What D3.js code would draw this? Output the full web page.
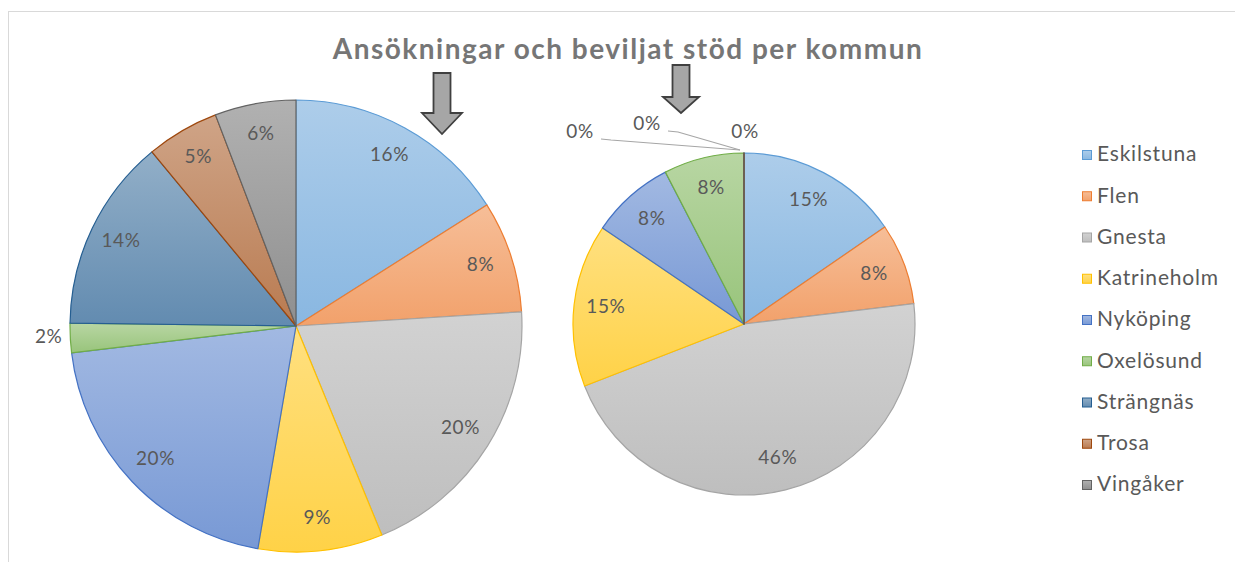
<!DOCTYPE html>
<html>
<head>
<meta charset="utf-8">
<script src="https://cdn.jsdelivr.net/npm/d3@7"></script>
<style>
  body { margin: 0; background: #fff; }
  svg { display: block; }
</style>
</head>
<body>
<script>
var width = 1235;
var height = 562;

// data (share in percent)
var kommuner = ["Eskilstuna", "Flen", "Gnesta", "Katrineholm", "Nyköping", "Oxelösund", "Strängnäs", "Trosa", "Vingåker"];
var ansokningar = [16, 8, 19.8, 8.9, 20.4, 2.1, 13.8, 5.2, 5.8];
var beviljat = [15.4, 7.7, 46, 15.4, 7.9, 7.6, 0, 0, 0];
var titel = "Ansökningar och beviljat stöd per kommun";

var colors = ["#5B9BD5", "#ED7D31", "#A5A5A5", "#FFC000", "#4472C4", "#70AD47", "#255E91", "#9E480E", "#636363"];

var pies = [
  {values: ansokningar, cx: 296, cy: 326, r: 226},
  {values: beviljat, cx: 744, cy: 324, r: 171}
];

// where the 0% labels sit, relative to the top of the pie
var zeroLabelOffsets = [[-164, -20], [-97, -28], [1, -20]];

var svg = d3.select("body")
  .append("svg")
  .attr("width", width)
  .attr("height", height)
  .style("font-family", "Lato, 'Open Sans', sans-serif");

var color = d3.scaleOrdinal().domain(kommuner).range(colors);

// vertical gradients, light at top
var defs = svg.append("defs");
kommuner.forEach(function(k, i) {
  var base = d3.color(color(k));
  var g = defs.append("linearGradient")
    .attr("id", "grad" + i)
    .attr("x1", 0).attr("y1", 0).attr("x2", 0).attr("y2", 1);
  g.append("stop").attr("offset", "0%").attr("stop-color", d3.interpolateRgb(base, "#fff")(0.5));
  g.append("stop").attr("offset", "100%").attr("stop-color", d3.interpolateRgb(base, "#fff")(0.28));
});

// chart area border
svg.append("rect")
  .attr("x", 8.5).attr("y", 11.5)
  .attr("width", width).attr("height", height)
  .attr("fill", "none")
  .attr("stroke", "#d9d9d9");

svg.append("text")
  .attr("x", 628)
  .attr("y", 59)
  .attr("text-anchor", "middle")
  .attr("font-size", 28)
  .attr("letter-spacing", 1.5)
  .attr("font-weight", "bold")
  .attr("fill", "#767676")
  .text(titel);

var pie = d3.pie().sort(null).value(function(d) { return d; });
var fmt = d3.format(".0%");

pies.forEach(function(p) {
  var total = d3.sum(p.values);
  var arcs = pie(p.values);
  var arc = d3.arc().innerRadius(0).outerRadius(p.r);
  var labelArc = d3.arc().innerRadius(p.r - 32).outerRadius(p.r - 32);

  var g = svg.append("g").attr("transform", `translate(${p.cx},${p.cy})`);

  g.selectAll("path")
    .data(arcs)
    .enter()
    .append("path")
      .attr("d", arc)
      .attr("fill", function(d) { return "url(#grad" + d.index + ")"; })
      .attr("stroke", function(d) { return color(kommuner[d.index]); })
      .attr("stroke-width", 1.2)
      .attr("stroke-linejoin", "round");

  var zi = 0;
  arcs.forEach(function(d) {
    var txt = fmt(d.value / total);
    var mid = (d.startAngle + d.endAngle) / 2;
    var t = g.append("text")
      .attr("font-size", 19)
      .attr("letter-spacing", 0.6)
      .attr("fill", "#595959")
      .attr("dominant-baseline", "middle")
      .text(txt);
    if (d.value === 0) {
      var top = [p.r * Math.sin(d.startAngle), -p.r * Math.cos(d.startAngle)];
      var off = zeroLabelOffsets[zi++];
      var lx = top[0] + off[0], ly = top[1] + off[1];
      t.attr("x", lx).attr("y", ly).attr("text-anchor", "middle");
      if (Math.abs(off[0]) > 20) {
        g.append("polyline")
          .attr("points", [[lx + 21, ly + 6], [lx + 31, ly + 7], [top[0] - 4, top[1] - 3]].join(" "))
          .attr("fill", "none")
          .attr("stroke", "#a6a6a6")
          .attr("stroke-width", 1.2);
      }
    } else if (d.endAngle - d.startAngle < 0.3) {
      // thin slice: label outside
      var R = p.r + 8;
      t.attr("x", R * Math.sin(mid))
        .attr("y", -R * Math.cos(mid))
        .attr("text-anchor", Math.sin(mid) < 0 ? "end" : "start");
    } else {
      var c = labelArc.centroid(d);
      t.attr("x", c[0]).attr("y", c[1]).attr("text-anchor", "middle");
    }
  });
});

// arrows pointing at the pies
var arrows = [
  {x: 442, top: 73, neck: 113, tip: 134, shaft: 8.5, head: 20},
  {x: 681, top: 65, neck: 97, tip: 113, shaft: 8.5, head: 18}
];
svg.selectAll(".arrow")
  .data(arrows)
  .enter()
  .append("path")
    .attr("class", "arrow")
    .attr("d", function(a) {
      return "M" + (a.x - a.shaft) + "," + a.top +
        "H" + (a.x + a.shaft) + "V" + a.neck +
        "H" + (a.x + a.head) + "L" + a.x + "," + a.tip +
        "L" + (a.x - a.head) + "," + a.neck +
        "H" + (a.x - a.shaft) + "Z";
    })
    .attr("fill", "#a6a6a6")
    .attr("stroke", "#404040")
    .attr("stroke-width", 1.8)
    .attr("stroke-linejoin", "miter");

// legend
var legend = svg.append("g")
  .selectAll("g")
  .data(kommuner)
  .enter()
  .append("g")
    .attr("transform", function(d, i) { return `translate(1082,${155 + i * 41.25})`; });

legend.append("rect")
  .attr("x", 0.5).attr("y", -4.5)
  .attr("width", 9).attr("height", 9)
  .attr("fill", function(d, i) { return "url(#grad" + i + ")"; })
  .attr("stroke", function(d) { return color(d); });

legend.append("text")
  .attr("x", 15)
  .attr("y", 1)
  .attr("dominant-baseline", "middle")
  .attr("font-size", 21)
  .attr("letter-spacing", 0.8)
  .attr("fill", "#595959")
  .text(function(d) { return d; });
</script>
</body>
</html>
